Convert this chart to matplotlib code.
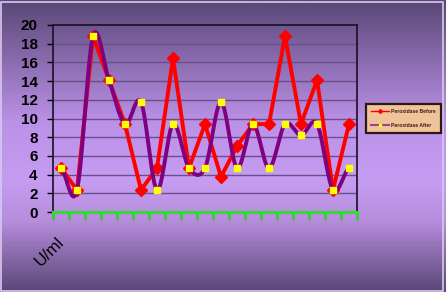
import numpy as np
import matplotlib
matplotlib.use("Agg")
import matplotlib.pyplot as plt
from matplotlib.colors import LinearSegmentedColormap
from matplotlib.lines import Line2D
from matplotlib.patches import Rectangle

# ---- data ----
categories = list(range(1, 20))
before = [4.7, 2.35, 18.8, 14.1, 9.4, 2.35, 4.7, 16.45, 4.7, 9.4, 3.76, 7.05,
          9.4, 9.4, 18.8, 9.4, 14.1, 2.35, 9.4]
after = [4.7, 2.35, 18.8, 14.1, 9.4, 11.75, 2.35, 9.4, 4.7, 4.7, 11.75, 4.7,
         9.4, 4.7, 9.4, 8.2, 9.4, 2.35, 4.7]
yticks = [0, 2, 4, 6, 8, 10, 12, 14, 16, 18, 20]
series_names = ["Peroxidase Before", "Peroxidase After"]
unit_label = "U/ml"

plt.rcParams['font.family'] = ['Liberation Sans', 'DejaVu Sans']

W, H = 446, 292
fig = plt.figure(figsize=(W / 100, H / 100), dpi=100)

# background gradient
bg = fig.add_axes([0, 0, 1, 1], zorder=-10)
cmap = LinearSegmentedColormap.from_list(
    "bg", [(0.0, "#5a4777"), (0.42, "#bc92e8"), (0.62, "#c69cf2"),
           (0.76, "#b68cdc"), (1.0, "#5a4777")])
grad = np.linspace(0, 1, 300).reshape(-1, 1)
bg.imshow(grad, aspect="auto", cmap=cmap, extent=[0, 1, 0, 1], origin="upper")
bg.set_xlim(0, 1)
bg.set_ylim(0, 1)
bg.axis("off")
bg.add_patch(Rectangle((0.002, 0.004), 0.992, 0.99, fill=False,
                       edgecolor="#d9c9ef", lw=1.2, transform=bg.transAxes))

ax = fig.add_axes([53 / W, 1 - 212 / H, 304 / W, 187 / H])
ax.patch.set_alpha(0)

x = np.arange(len(categories))


def catmull(xs, ys, n=30):
    xs = np.asarray(xs, float)
    ys = np.asarray(ys, float)
    px = np.concatenate([[2 * xs[0] - xs[1]], xs, [2 * xs[-1] - xs[-2]]])
    py = np.concatenate([[ys[0]], ys, [ys[-1]]])
    ox, oy = [], []
    for i in range(1, len(px) - 2):
        p0, p1, p2, p3 = py[i - 1], py[i], py[i + 1], py[i + 2]
        q0, q1, q2, q3 = px[i - 1], px[i], px[i + 1], px[i + 2]
        c1y = p1 + (p2 - p0) / 6
        c2y = p2 - (p3 - p1) / 6
        c1x = q1 + (q2 - q0) / 6
        c2x = q2 - (q3 - q1) / 6
        t = np.linspace(0, 1, n)
        b0 = (1 - t) ** 3
        b1 = 3 * (1 - t) ** 2 * t
        b2 = 3 * (1 - t) * t ** 2
        b3 = t ** 3
        ox.extend(b0 * q1 + b1 * c1x + b2 * c2x + b3 * q2)
        oy.extend(b0 * p1 + b1 * c1y + b2 * c2y + b3 * p2)
    return np.array(ox), np.array(oy)


for yv in yticks[1:-1]:
    ax.axhline(yv, color="#6b4f8c", lw=1.0, zorder=1)

ax.plot(x, before, color="#ff0000", lw=2.8, marker="D", ms=6,
        markerfacecolor="#ff0000", markeredgecolor="#ff0000", zorder=3)
sx, sy = catmull(x, after)
ax.plot(sx, sy, color="#800080", lw=2.8, zorder=4, solid_capstyle="round")
ax.plot(x, after, ls="none", marker="s", ms=4, markerfacecolor="#ffff00",
        markeredgecolor="#ffff00", zorder=5)

ax.set_xlim(-0.5, len(categories) - 0.5)
ax.set_ylim(0, 20)
ax.set_yticks(yticks)
ax.set_yticklabels([str(v) for v in yticks], fontsize=11, fontweight="bold")
ax.tick_params(axis="y", length=4, width=1, color="black", pad=7)
ax.set_xticks(np.arange(-0.5, len(categories), 1.0))
ax.set_xticklabels([])
ax.tick_params(axis="x", length=6, width=1.8, color="#33cc33", direction="out")

for s in ["left", "top", "right"]:
    ax.spines[s].set_color("#1a0f24")
    ax.spines[s].set_linewidth(1.2)
ax.spines["bottom"].set_color("#33dd33")
ax.spines["bottom"].set_linewidth(2.2)
ax.spines["bottom"].set_zorder(6)

fig.text(50 / W, 1 - 252 / H, unit_label, rotation=45, fontsize=12,
         ha="center", va="center", color="black")

handles = [
    Line2D([0], [0], color="#ff0000", lw=1, marker="D", ms=2),
    Line2D([0], [0], color="#9a40a0", lw=1.5, marker="s", ms=2,
           markerfacecolor="#ffff00", markeredgecolor="#ffff00"),
]
leg = fig.legend(handles, series_names, loc="center left",
                 bbox_to_anchor=(366 / W, 1 - 118 / H),
                 prop={"size": 3.6, "weight": "bold"},
                 frameon=True, fancybox=False, handlelength=3.6,
                 borderpad=1.0, labelspacing=1.8, handletextpad=0.4,
                 borderaxespad=0)
fr = leg.get_frame()
fr.set_facecolor("#f0c49a")
fr.set_edgecolor("#2a1a14")
fr.set_linewidth(1.6)
fr.set_alpha(1)
for t in leg.get_texts():
    t.set_color("#3a1a10")

fig.savefig("out.png", dpi=100)
